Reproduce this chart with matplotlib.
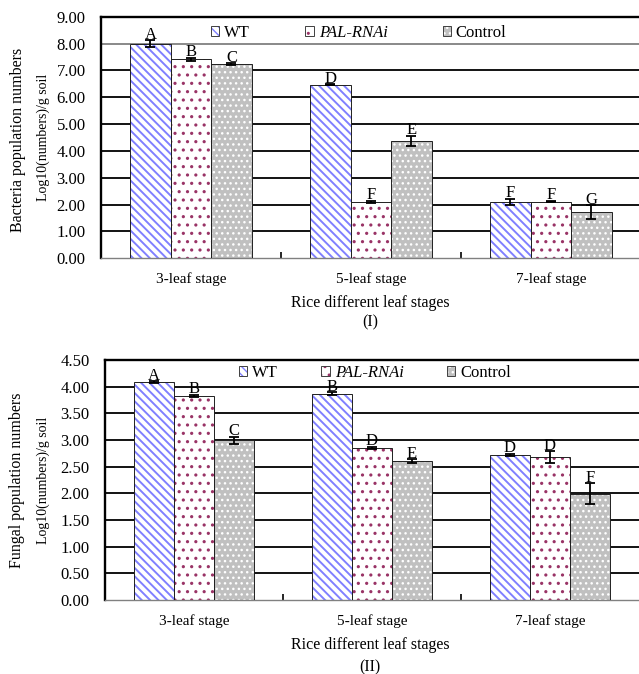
import numpy as np
import matplotlib
matplotlib.use('Agg')
import matplotlib.pyplot as plt
from matplotlib.patches import Patch
from matplotlib.legend_handler import HandlerTuple

stages = ['3-leaf stage', '5-leaf stage', '7-leaf stage']
series = ['WT', 'PAL-RNAi', 'Control']

# bacteria, log10(numbers)/g soil
bact_wt = [8.00, 6.47, 2.10]
bact_pal = [7.42, 2.11, 2.11]
bact_ctrl = [7.24, 4.37, 1.72]
bact_wt_err = [0.13, 0.02, 0.12]
bact_pal_err = [0.06, 0.04, 0.03]
bact_ctrl_err = [0.04, 0.19, 0.25]
bact_letters_wt = ['A', 'D', 'F']
bact_letters_pal = ['B', 'F', 'F']
bact_letters_ctrl = ['C', 'E', 'G']

# fungi, log10(numbers)/g soil
fung_wt = [4.08, 3.87, 2.72]
fung_pal = [3.83, 2.85, 2.68]
fung_ctrl = [2.99, 2.60, 1.99]
fung_wt_err = [0.02, 0.02, 0.02]
fung_pal_err = [0.02, 0.02, 0.11]
fung_ctrl_err = [0.07, 0.04, 0.20]
fung_letters_wt = ['A', 'B', 'D']
fung_letters_pal = ['B', 'D', 'D']
fung_letters_ctrl = ['C', 'E', 'F']

plt.rcParams['font.family'] = 'Liberation Serif'

# face, hatch colour, hatch, hatch linewidth
styles = [('white', '#8080FF', '\\\\\\\\', 1.4),
          ('white', '#993366', '..', 1.1),
          ('#C0C0C0', 'white', '...', 1.0)]

fig = plt.figure(figsize=(6.39, 6.74), dpi=100)
ax1 = fig.add_axes([0.158, 0.617, 0.845, 0.358])
ax2 = fig.add_axes([0.164, 0.110, 0.836, 0.356])


def hatched(face, hcol, hatch, hlw, **kw):
    with plt.rc_context({'hatch.linewidth': hlw}):
        p = Patch(facecolor=face, edgecolor=hcol, linewidth=0, hatch=hatch, **kw)
    if hasattr(p, 'set_hatch_linewidth'):
        p.set_hatch_linewidth(hlw)
    return p


def draw_panel(ax, vals, errs, letters, ymax, step, gray_line, leg_x, leg_y, colsp):
    x = np.arange(len(stages))
    w = 0.225
    handles = []
    for i, (v, e, lab) in enumerate(zip(vals, errs, letters)):
        face, hcol, hatch, hlw = styles[i]
        pos = x + (i - 1) * w
        with plt.rc_context({'hatch.linewidth': hlw}):
            bars = ax.bar(pos, v, w, color=face, edgecolor=hcol, linewidth=0,
                          hatch=hatch, zorder=2)
        for b in bars:
            if hasattr(b, 'set_hatch_linewidth'):
                b.set_hatch_linewidth(hlw)
        ax.bar(pos, v, w, fill=False, edgecolor='#202020', linewidth=0.7, zorder=3)
        ax.errorbar(pos, v, yerr=e, fmt='none', ecolor='black', elinewidth=1.3,
                    capsize=3.5, capthick=1.3, zorder=4)
        for px, py, pe, t in zip(pos, v, e, lab):
            ax.annotate(t, (px, py + pe), xytext=(0, 1), textcoords='offset points',
                        ha='center', va='baseline', fontsize=12, zorder=5)
        handles.append((hatched(face, hcol, hatch, hlw),
                        Patch(fill=False, edgecolor='#404040', linewidth=0.7)))

    ticks = np.arange(0, ymax + step / 2, step)
    for t in ticks[1:-1]:
        c = '#808080' if np.isclose(t, gray_line) else 'black'
        ax.axhline(t, color=c, linewidth=1.3, zorder=0)
    ax.set_ylim(0, ymax)
    ax.set_yticks(ticks)
    ax.set_yticklabels(['%.2f' % t for t in ticks], fontsize=12)
    ax.tick_params(axis='y', length=0, pad=11)
    ax.set_xlim(-0.5, 2.5)
    ax.set_xticks(x)
    ax.set_xticklabels(stages, fontsize=11)
    ax.set_xticks([0.5, 1.5], minor=True)
    ax.tick_params(axis='x', which='major', length=0, pad=10)
    ax.tick_params(axis='x', which='minor', direction='in', length=4, width=1.2, color='black')
    ax.spines['right'].set_visible(False)
    ax.spines['top'].set_linewidth(1.7)
    ax.spines['left'].set_linewidth(1.7)
    ax.spines['bottom'].set_color('#808080')
    ax.spines['bottom'].set_linewidth(1.0)

    leg = ax.legend(handles, series, handler_map={tuple: HandlerTuple(ndivide=1)},
                    loc='center left', bbox_to_anchor=(leg_x, leg_y), ncol=3,
                    frameon=False, fontsize=12, borderpad=0, borderaxespad=0,
                    handlelength=0.5, handleheight=0.5, handletextpad=0.3,
                    columnspacing=colsp)
    leg.get_texts()[1].set_style('italic')


draw_panel(ax1, [bact_wt, bact_pal, bact_ctrl],
           [bact_wt_err, bact_pal_err, bact_ctrl_err],
           [bact_letters_wt, bact_letters_pal, bact_letters_ctrl],
           9.0, 1.0, 8.0, 0.204, 0.934, 3.3)
draw_panel(ax2, [fung_wt, fung_pal, fung_ctrl],
           [fung_wt_err, fung_pal_err, fung_ctrl_err],
           [fung_letters_wt, fung_letters_pal, fung_letters_ctrl],
           4.5, 0.5, -1, 0.251, 0.946, 2.6)

fig.text(0.028, 0.792, 'Bacteria population numbers', rotation=90,
         ha='center', va='center', fontsize=11.5)
fig.text(0.067, 0.796, 'Log10(numbers)/g soil', rotation=90,
         ha='center', va='center', fontsize=10)
fig.text(0.579, 0.5504, 'Rice different leaf stages', ha='center', va='center', fontsize=11.5)
fig.text(0.579, 0.522, '(I)', ha='center', va='center', fontsize=11.5)

fig.text(0.027, 0.288, 'Fungal population numbers', rotation=90,
         ha='center', va='center', fontsize=11.5)
fig.text(0.067, 0.288, 'Log10(numbers)/g soil', rotation=90,
         ha='center', va='center', fontsize=10)
fig.text(0.579, 0.043, 'Rice different leaf stages', ha='center', va='center', fontsize=11.5)
fig.text(0.579, 0.0104, '(II)', ha='center', va='center', fontsize=11.5)

fig.savefig('out.png', dpi=100)
